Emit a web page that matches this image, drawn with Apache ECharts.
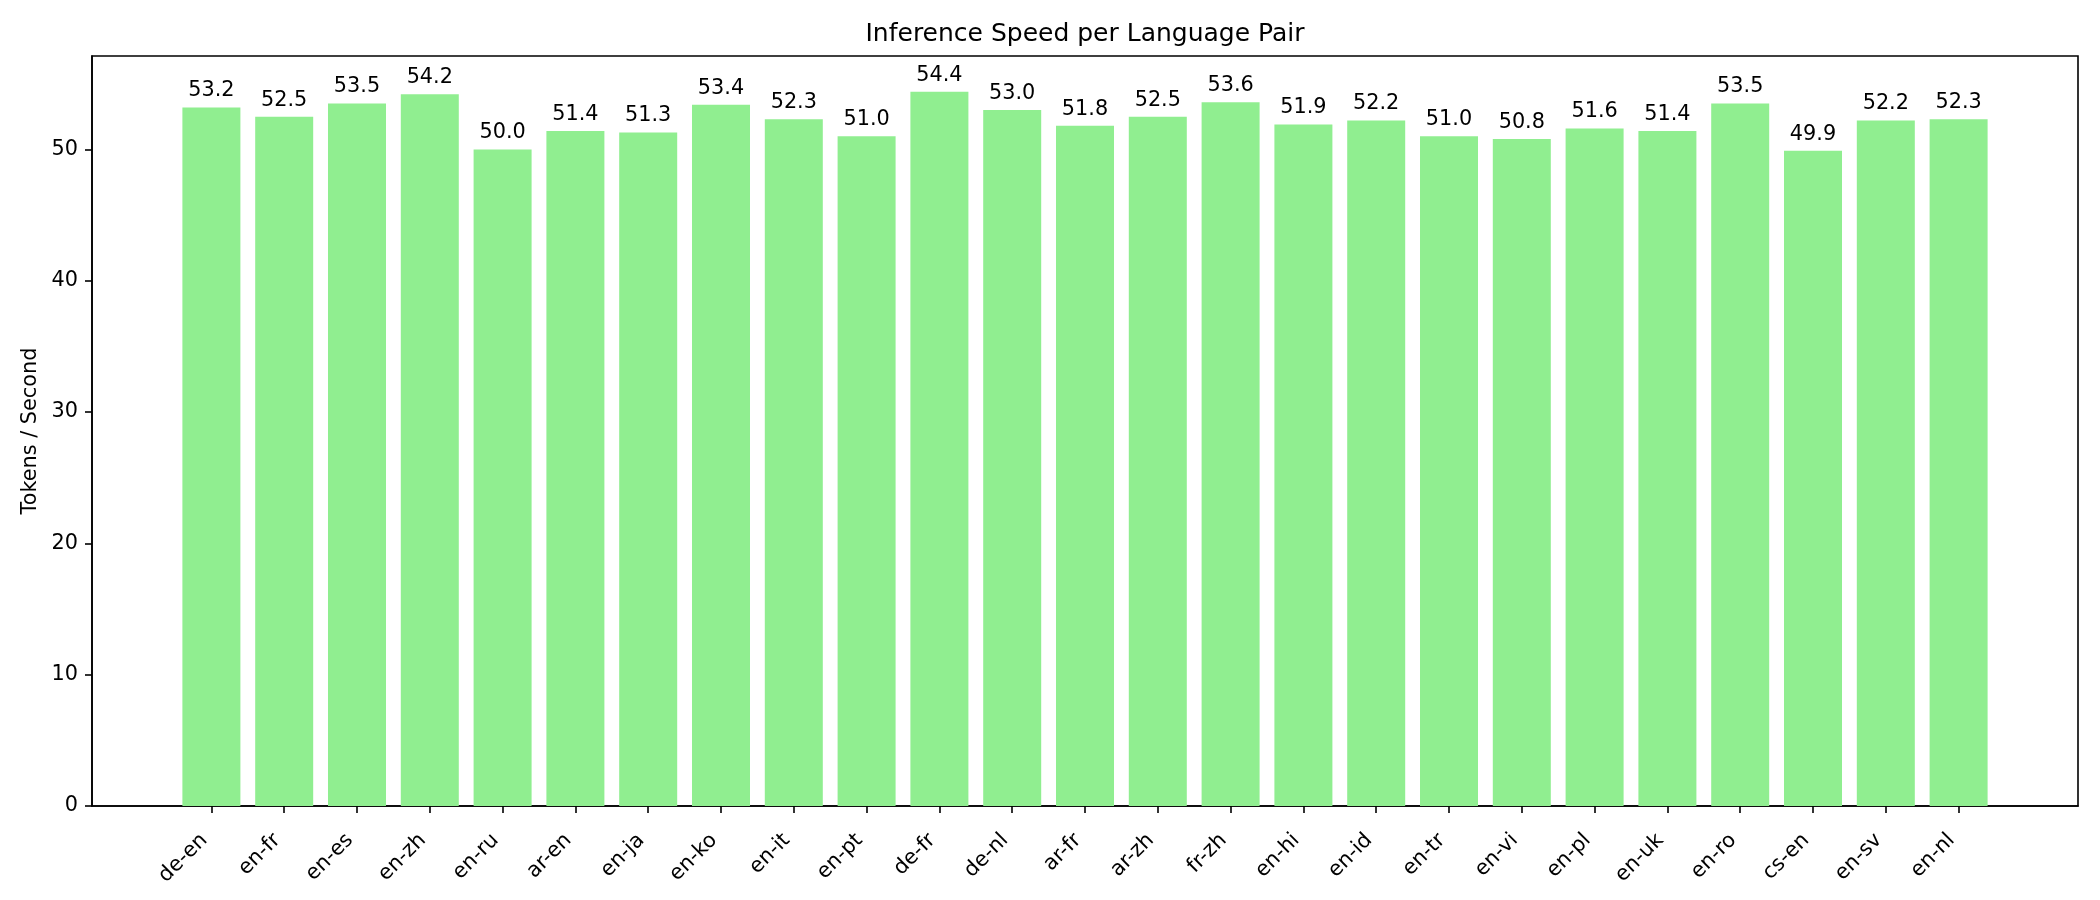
<!DOCTYPE html>
<html>
<head>
<meta charset="utf-8">
<title>Inference Speed per Language Pair</title>
<script src="https://cdn.jsdelivr.net/npm/echarts@6/dist/echarts.min.js"></script>
<style>
  html, body { margin: 0; padding: 0; background: #fff; }
  #main { width: 2100px; height: 900px; }
</style>
</head>
<body>
<div id="main"></div>
<script>
// language pairs and measured speed (tokens / second)
var pairs = ['de-en', 'en-fr', 'en-es', 'en-zh', 'en-ru', 'ar-en', 'en-ja', 'en-ko', 'en-it', 'en-pt',
             'de-fr', 'de-nl', 'ar-fr', 'ar-zh', 'fr-zh', 'en-hi', 'en-id', 'en-tr', 'en-vi', 'en-pl',
             'en-uk', 'en-ro', 'cs-en', 'en-sv', 'en-nl'];
var speeds = [53.2, 52.5, 53.5, 54.2, 50.0, 51.4, 51.3, 53.4, 52.3, 51.0,
              54.4, 53.0, 51.8, 52.5, 53.6, 51.9, 52.2, 51.0, 50.8, 51.6,
              51.4, 53.5, 49.9, 52.2, 52.3];
var yTicks = [0, 10, 20, 30, 40, 50];

var FONT = 'DejaVu Sans';
var xPos = pairs.map(function (p, i) { return i; });
var barData = speeds.map(function (v, i) { return [i, v]; });

var chart = echarts.init(document.getElementById('main'));

chart.setOption({
    animation: false,
    backgroundColor: '#fff',
    textStyle: { fontFamily: FONT },
    title: {
        text: 'Inference Speed per Language Pair',
        left: 1085,
        top: 22,
        padding: 0,
        textAlign: 'center',
        textStyle: { fontFamily: FONT, fontSize: 25, fontWeight: 'normal', color: '#000' }
    },
    grid: {
        left: 92, right: 22, top: 56, bottom: 94,
        show: true, borderColor: '#000', borderWidth: 1.6, backgroundColor: 'transparent'
    },
    xAxis: {
        type: 'value',
        min: -1.64,
        max: 25.64,
        splitLine: { show: false },
        axisLine: { show: true, onZero: false, lineStyle: { color: '#000', width: 1.6 } },
        axisTick: { show: true, customValues: xPos, length: 7, lineStyle: { color: '#000', width: 1.6 } },
        axisLabel: {
            customValues: xPos,
            rotate: 45,
            margin: 24,
            padding: [0, 10, 0, 0],
            fontSize: 20.8,
            fontFamily: FONT,
            color: '#000',
            formatter: function (v) { return pairs[v]; }
        }
    },
    yAxis: {
        type: 'value',
        min: 0,
        max: 57.12,
        name: 'Tokens / Second',
        nameLocation: 'middle',
        nameGap: 41,
        nameTextStyle: { fontFamily: FONT, fontSize: 20.8, color: '#000' },
        splitLine: { show: false },
        axisLine: { show: true, onZero: false, lineStyle: { color: '#000', width: 1.6 } },
        axisTick: { show: true, customValues: yTicks, length: 7, lineStyle: { color: '#000', width: 1.6 } },
        axisLabel: {
            customValues: yTicks,
            margin: 14,
            fontSize: 20.8,
            fontFamily: FONT,
            color: '#000'
        }
    },
    series: [{
        type: 'bar',
        data: barData,
        barWidth: 58,
        itemStyle: { color: '#90EE90' },
        label: {
            show: true,
            position: 'top',
            distance: 6,
            fontSize: 20.8,
            fontFamily: FONT,
            color: '#000',
            formatter: function (p) { return p.value[1].toFixed(1); }
        }
    }]
});

window.onresize = function () {
    chart.resize();
};
</script>
</body>
</html>
